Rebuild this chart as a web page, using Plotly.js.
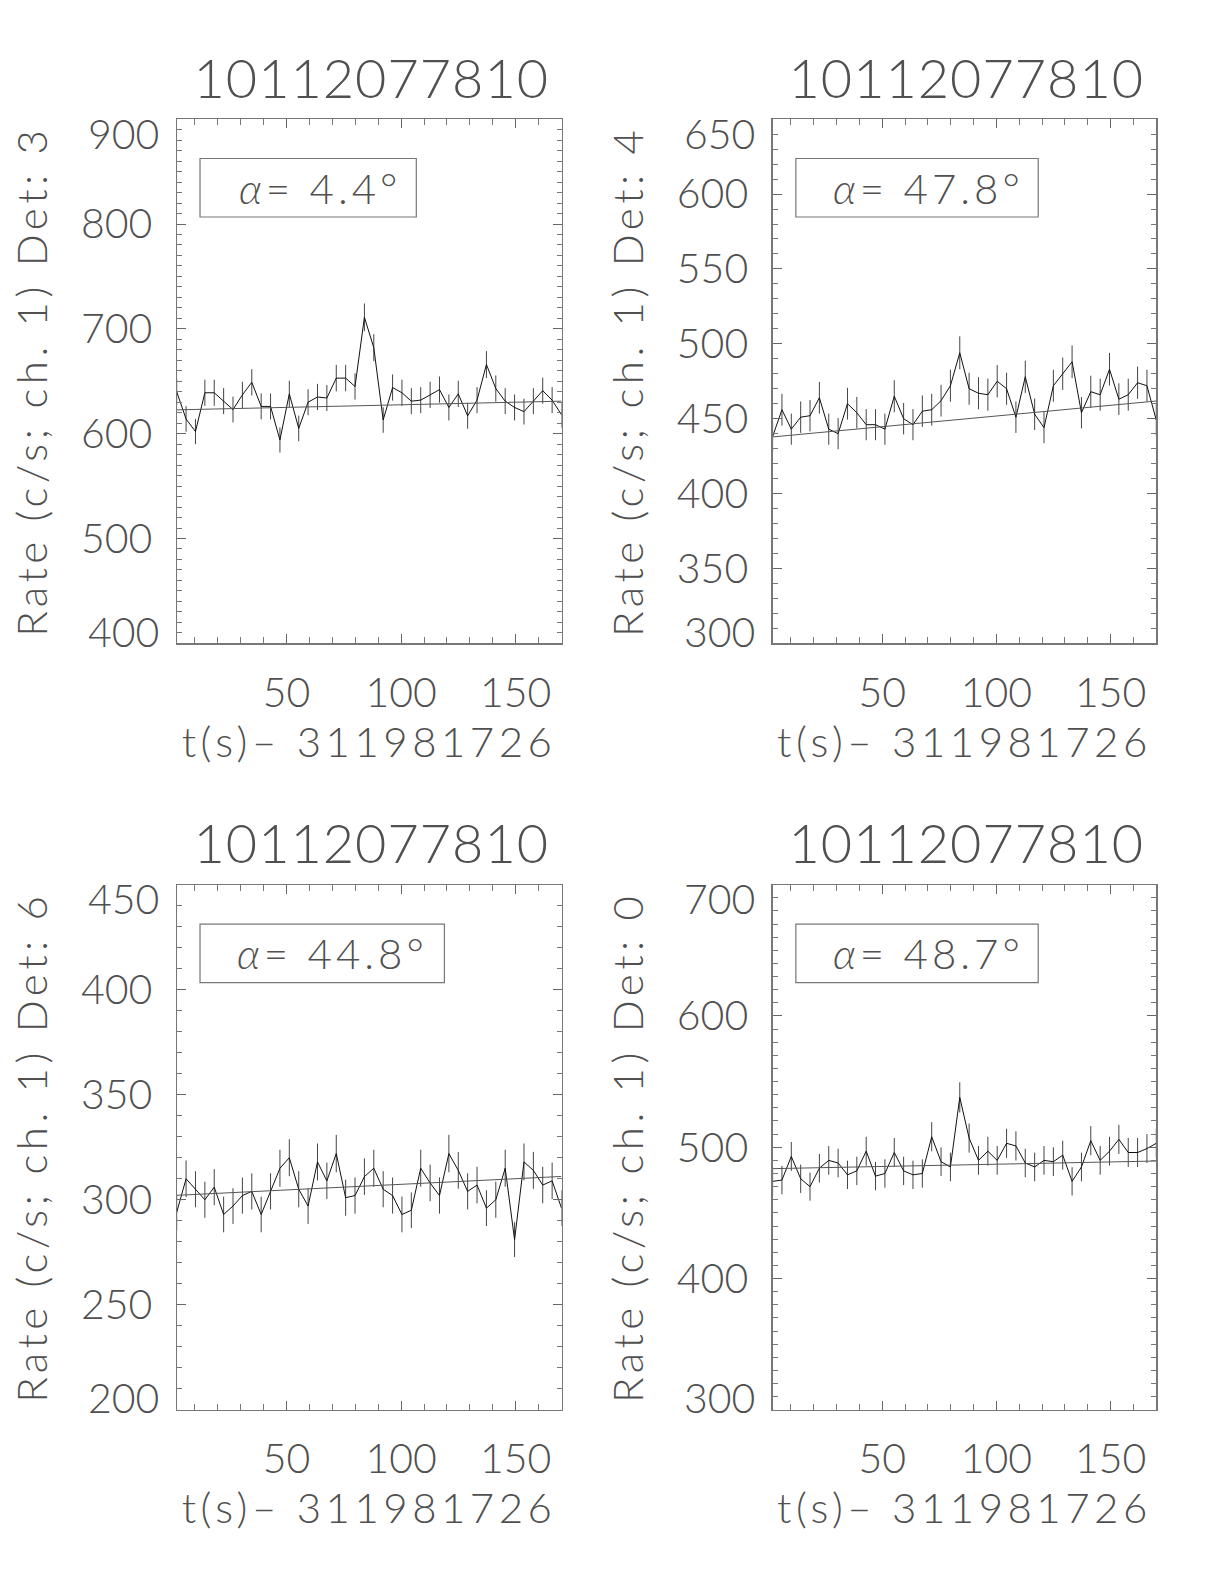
<!DOCTYPE html>
<html>
<head>
<meta charset="utf-8">
<script src="https://cdn.plot.ly/plotly-3.0.1.min.js"></script>
<style>
html,body{margin:0;padding:0;background:#fff}
text.xtitle, text.x2title, text.x3title, text.x4title,
text.ytitle, text.y2title, text.y3title, text.y4title { letter-spacing: 4.5px; }
</style>
</head>
<body>
<div id="chart" style="width:1224px;height:1584px"></div>
<script>
// ---- data ----
const obsId = "10112077810";
const timeOffset = "311981726";
const detectors = ["3", "4", "6", "0"];
const alphaDeg = ["4.4", "47.8", "44.8", "48.7"];

const timeBins = [2.05, 6.14, 10.24, 14.34, 18.43, 22.53, 26.62, 30.72, 34.82, 38.91,
  43.01, 47.10, 51.20, 55.30, 59.39, 63.49, 67.58, 71.68, 75.78, 79.87,
  83.97, 88.06, 92.16, 96.26, 100.35, 104.45, 108.54, 112.64, 116.74, 120.83,
  124.93, 129.02, 133.12, 137.22, 141.31, 145.41, 149.50, 153.60, 157.70, 161.79,
  165.89, 169.98];

const rateDet3 = [640, 614, 602, 639, 639, 631, 623, 637, 649, 626, 626, 594, 638, 605, 630, 635, 634, 653, 653, 645,
  711, 682, 613, 644, 639, 631, 632, 637, 642, 625, 638, 617, 632, 666, 643, 631, 625, 621, 631, 641, 632, 618];
const errDet3 = [12.5, 12.2, 12.1, 12.5, 12.5, 12.4, 12.3, 12.5, 12.6, 12.4, 12.4, 12.0, 12.5, 12.2, 12.4, 12.5, 12.4, 12.6, 12.6, 12.5,
  13.2, 12.9, 12.2, 12.5, 12.5, 12.4, 12.4, 12.5, 12.5, 12.4, 12.5, 12.3, 12.4, 12.8, 12.5, 12.4, 12.4, 12.3, 12.4, 12.5, 12.4, 12.3];

const rateDet4 = [438, 456, 443, 451, 452, 464, 443, 440, 460, 454, 446, 446, 443, 465, 450, 446, 455, 456, 462, 472,
  494, 470, 467, 466, 475, 470, 451, 478, 453, 444, 472, 480, 488, 454, 468, 466, 483, 463, 466, 474, 472, 449];
const errDet4 = [10.3, 10.6, 10.4, 10.5, 10.5, 10.6, 10.4, 10.4, 10.6, 10.5, 10.4, 10.4, 10.4, 10.7, 10.5, 10.4, 10.5, 10.6, 10.6, 10.7,
  11.0, 10.7, 10.7, 10.7, 10.8, 10.7, 10.5, 10.8, 10.5, 10.4, 10.7, 10.8, 10.9, 10.5, 10.7, 10.7, 10.9, 10.6, 10.7, 10.8, 10.7, 10.5];

const rateDet6 = [294, 310, 305, 300, 306, 293, 297, 302, 304, 293, 304, 315, 320, 305, 297, 318, 309, 322, 301, 302,
  311, 315, 305, 302, 293, 295, 315, 308, 302, 322, 314, 304, 307, 296, 300, 315, 281, 318, 314, 307, 309, 296];
const errDet6 = [8.5, 8.7, 8.6, 8.6, 8.6, 8.5, 8.5, 8.6, 8.6, 8.5, 8.6, 8.8, 8.8, 8.6, 8.5, 8.8, 8.7, 8.9, 8.6, 8.6,
  8.7, 8.8, 8.6, 8.6, 8.5, 8.5, 8.8, 8.7, 8.6, 8.9, 8.7, 8.6, 8.7, 8.5, 8.6, 8.8, 8.3, 8.8, 8.8, 8.7, 8.7, 8.5];

const rateDet0 = [474, 475, 493, 476, 470, 484, 490, 488, 479, 482, 497, 478, 480, 496, 482, 479, 480, 508, 489, 485,
  538, 507, 490, 497, 490, 503, 501, 488, 485, 490, 489, 494, 474, 485, 505, 490, 497, 506, 496, 496, 499, 503];
const errDet0 = [10.8, 10.8, 11.0, 10.8, 10.7, 10.9, 10.9, 10.9, 10.8, 10.8, 11.0, 10.8, 10.8, 11.0, 10.8, 10.8, 10.8, 11.1, 10.9, 10.9,
  11.5, 11.1, 10.9, 11.0, 10.9, 11.1, 11.1, 10.9, 10.9, 10.9, 10.9, 11.0, 10.8, 10.9, 11.1, 10.9, 11.0, 11.1, 11.0, 11.0, 11.0, 11.1];

const fitTimes = [2.05, 169.98];
const fitDet3 = [622.7, 631.0];
const fitDet4 = [437.8, 461.8];
const fitDet6 = [302.1, 311.1];
const fitDet0 = [483.7, 489.5];

const yTickVals = [
  [400, 500, 600, 700, 800, 900],
  [300, 350, 400, 450, 500, 550, 600, 650],
  [200, 250, 300, 350, 400, 450],
  [300, 400, 500, 600, 700]
];

// ---- chart construction ----
const rates = [rateDet3, rateDet4, rateDet6, rateDet0];
const errs = [errDet3, errDet4, errDet6, errDet0];
const fits = [fitDet3, fitDet4, fitDet6, fitDet0];

const W = 1224, H = 1584;
const colX = [[176.7, 561.5], [772.6, 1156.3]];
const rowY = [[119.2, 643.3], [884.7, 1409.8]];
const boxRight = [0.6227, 0.6922, 0.6957, 0.6922];

const FAM = 'Lato, "DejaVu Sans", sans-serif';
const TXT = '#505050';
const WT = 300;
const tickFont = {family: FAM, size: 41, color: TXT, weight: WT};

const traces = [];
const layout = {
  width: W, height: H,
  margin: {l: 0, r: 0, t: 0, b: 0},
  paper_bgcolor: '#fff', plot_bgcolor: '#fff',
  showlegend: false,
  annotations: [], shapes: []
};

for (let p = 0; p < 4; p++) {
  const sfx = p === 0 ? '' : String(p + 1);
  const xa = 'x' + sfx, ya = 'y' + sfx;
  const col = p % 2, row = Math.floor(p / 2);
  const tv = yTickVals[p];
  const yMin = tv[0], yMax = tv[tv.length - 1];

  traces.push({
    x: timeBins, y: rates[p], xaxis: xa, yaxis: ya,
    type: 'scatter', mode: 'lines',
    line: {color: '#111', width: 1},
    error_y: {type: 'data', array: errs[p], visible: true, color: '#444', thickness: 1, width: 0},
    hoverinfo: 'skip'
  });
  traces.push({
    x: fitTimes, y: fits[p], xaxis: xa, yaxis: ya,
    type: 'scatter', mode: 'lines',
    line: {color: '#555', width: 1},
    hoverinfo: 'skip'
  });

  layout['xaxis' + sfx] = {
    domain: [colX[col][0] / W, colX[col][1] / W],
    anchor: ya,
    range: [timeBins[0], timeBins[timeBins.length - 1]],
    tick0: 0, dtick: 50,
    ticks: 'inside', ticklen: 9, tickwidth: 1, tickcolor: '#666',
    minor: {ticks: 'inside', ticklen: 6, dtick: 10, tickcolor: '#777', tickwidth: 1},
    showline: true, linecolor: '#777', linewidth: 1.2, mirror: 'allticks',
    showgrid: false, zeroline: false,
    tickfont: tickFont, ticklabelstandoff: 13,
    title: {text: 't(s)\u2013 ' + timeOffset, font: {family: FAM, size: 42, color: TXT, weight: WT}, standoff: 8}
  };
  layout['yaxis' + sfx] = {
    domain: [1 - rowY[row][1] / H, 1 - rowY[row][0] / H],
    anchor: xa,
    range: [yMin, yMax],
    tickmode: 'array',
    tickvals: tv,
    ticktext: tv.map((v, i) => (i === 0 || i === tv.length - 1) ? '' : String(v)),
    ticks: 'inside', ticklen: 9, tickwidth: 1, tickcolor: '#666',
    minor: {ticks: 'inside', ticklen: 5, dtick: 10, tick0: 0, tickcolor: '#777', tickwidth: 1},
    showline: true, linecolor: '#777', linewidth: 1.2, mirror: 'allticks',
    showgrid: false, zeroline: false,
    tickfont: tickFont, ticklabelstandoff: 15,
    title: {text: 'Rate (c/s; ch. 1) Det: ' + detectors[p], font: {family: FAM, size: 42, color: TXT, weight: WT}, standoff: 20}
  };

  // end tick labels kept inside the frame, as in the reference
  layout.annotations.push({
    xref: xa + ' domain', yref: ya, x: 0, y: yMax, xanchor: 'right', yanchor: 'middle',
    xshift: -16, yshift: -14, text: String(yMax), showarrow: false, font: tickFont
  });
  layout.annotations.push({
    xref: xa + ' domain', yref: ya, x: 0, y: yMin, xanchor: 'right', yanchor: 'middle',
    xshift: -16, yshift: 12, text: String(yMin), showarrow: false, font: tickFont
  });

  // panel title
  layout.annotations.push({
    xref: xa + ' domain', yref: ya + ' domain', x: 0.5, y: 1, xanchor: 'center', yanchor: 'middle',
    yshift: 42, xshift: 2, text: obsId, showarrow: false,
    font: {family: FAM, size: 54, color: TXT, weight: WT}
  });

  // alpha box
  layout.shapes.push({
    type: 'rect', xref: xa + ' domain', yref: ya + ' domain',
    x0: 0.0606, x1: boxRight[p], y0: 0.8134, y1: 0.925,
    line: {color: '#777', width: 1.2}, fillcolor: 'rgba(0,0,0,0)'
  });
  layout.annotations.push({
    xref: xa + ' domain', yref: ya + ' domain', x: 0.0606, y: 0.869, xanchor: 'left', yanchor: 'middle',
    xshift: 51, text: '<i>\u03b1</i>= ' + alphaDeg[p] + '\u00b0', showarrow: false,
    font: {family: FAM, size: 42, color: TXT, weight: WT}
  });
}

Plotly.newPlot('chart', traces, layout, {staticPlot: true, displayModeBar: false}).then(function (gd) {
  gd.querySelectorAll('text.annotation-text').forEach(function (t) {
    const s = t.textContent;
    if (s.indexOf('\u03b1') >= 0) t.style.letterSpacing = '4px';
    else if (s === obsId) t.style.letterSpacing = '1px';
  });
});
</script>
</body>
</html>
